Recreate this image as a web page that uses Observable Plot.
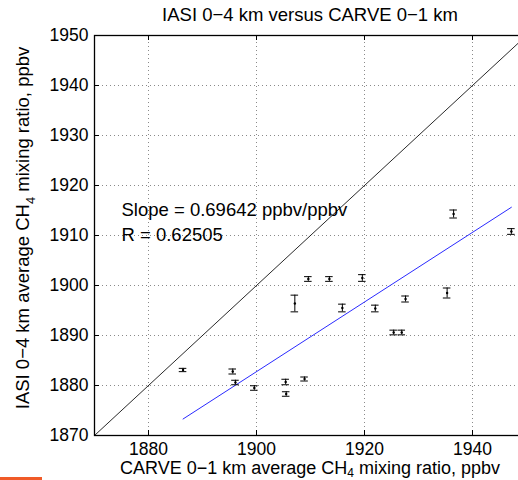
<!DOCTYPE html>
<html><head><meta charset="utf-8">
<script src="https://cdn.jsdelivr.net/npm/d3@7"></script>
<script src="https://cdn.jsdelivr.net/npm/@observablehq/plot@0.6"></script>
<style>
html,body{margin:0;padding:0;overflow:hidden;background:#fff;width:518px;height:480px;}
#chart{position:absolute;left:0;top:0;width:518px;height:480px;overflow:hidden;}
#chart svg{max-width:none !important;width:560px;height:480px;}
#bar{position:absolute;left:0;top:477px;width:42px;height:3px;background:#f05a28;}
</style></head><body><div id="chart"></div><div id="bar"></div>
<script>
// CARVE 0-1 km average CH4 (x) vs IASI 0-4 km average CH4 (y), ppbv
const carve = [1886.4, 1895.6, 1896.1, 1899.6, 1905.4, 1905.5, 1908.9, 1907.1, 1909.6, 1913.5, 1919.6, 1915.9, 1922.0, 1927.6, 1925.4, 1926.9, 1936.5, 1947.2, 1935.3];
const iasi  = [1883.1, 1882.8, 1880.6, 1879.5, 1880.7, 1878.3, 1881.3, 1896.4, 1901.3, 1901.3, 1901.5, 1895.5, 1895.4, 1897.3, 1890.6, 1890.6, 1914.3, 1910.8, 1898.5];
const iasiErr = [0.33, 0.5, 0.45, 0.45, 0.55, 0.45, 0.4, 1.67, 0.47, 0.47, 0.67, 0.77, 0.67, 0.6, 0.47, 0.47, 0.8, 0.57, 1.0];
const slope = 0.69642;
const rValue = 0.62505;
const fitStart = [1886.4, 1873.3];
const xTicks = [1880, 1900, 1920, 1940];
const yTicks = [1870, 1880, 1890, 1900, 1910, 1920, 1930, 1940, 1950];
const titleText = "IASI 0\u22124 km versus CARVE 0\u22121 km";

const pts = carve.map((x, i) => ({x, y: iasi[i], e: iasiErr[i]}));
const intercept = fitStart[1] - slope * fitStart[0];
const [xmin, xmax] = d3.extent(carve);
const fit = [xmin, xmax].map(x => ({x, y: intercept + slope * x}));
const diag = [{x: 1870, y: 1870}, {x: 1950, y: 1950}];
const innerX = xTicks.filter(t => t > 1870 && t < 1950);
const innerY = yTicks.filter(t => t > 1870 && t < 1950);
const grid = {stroke: "#8a8a8a", strokeOpacity: 1, strokeWidth: 1, strokeDasharray: "1,3"};
const font = "'Liberation Sans', Arial, Helvetica, sans-serif";
const fs = 18.5;
const tfs = 17.5;

const W = 560, ML = 94, MR = 34, MT = 35, MB = 45, H = 480;
const chart = Plot.plot({
  width: W, height: H,
  marginLeft: ML, marginRight: MR, marginTop: MT, marginBottom: MB,
  style: {fontFamily: font, fontSize: fs + "px", background: "white", color: "black", overflow: "visible", maxWidth: "none"},
  x: {domain: [1870, 1950]},
  y: {domain: [1870, 1950]},
  marks: [
    Plot.ruleX(innerX, {x: d => d, y1: 1870, y2: 1950, ...grid}),
    Plot.ruleY(innerY, {y: d => d, x1: 1870, x2: 1950, ...grid}),
    Plot.axisX(xTicks, {tickSize: 0, tickPadding: 7, tickFormat: d => String(d), label: null, fontSize: tfs}),
    Plot.axisY(yTicks, {tickSize: 0, tickPadding: 6, tickFormat: d => String(d), label: null, fontSize: tfs}),
    Plot.ruleX(xTicks, {x: d => d, y1: 1870, y2: 1871, stroke: "black"}),
    Plot.ruleX(xTicks, {x: d => d, y1: 1950, y2: 1949, stroke: "black"}),
    Plot.ruleY(yTicks, {y: d => d, x1: 1870, x2: 1870.93, stroke: "black"}),
    Plot.line(diag, {x: "x", y: "y", stroke: "#111", strokeWidth: 0.9}),
    Plot.line(fit, {x: "x", y: "y", stroke: "#2a2aff", strokeWidth: 1}),
    Plot.ruleX(pts, {x: "x", y1: d => d.y - d.e, y2: d => d.y + d.e, stroke: "black", strokeWidth: 1}),
    Plot.ruleY(pts, {y: d => d.y - d.e, x1: d => d.x - 0.7, x2: d => d.x + 0.7, stroke: "black", strokeWidth: 1}),
    Plot.ruleY(pts, {y: d => d.y + d.e, x1: d => d.x - 0.7, x2: d => d.x + 0.7, stroke: "black", strokeWidth: 1}),
    Plot.dot(pts, {x: "x", y: "y", r: 1.2, fill: "black", stroke: null}),
    Plot.text([`Slope = ${slope} ppbv/ppbv`, `R = ${rValue}`], {
      x: 1875, y: (d, i) => 1915 - 5 * i, text: d => d, textAnchor: "start", lineAnchor: "middle", fill: "black", fontSize: fs
    }),
    Plot.frame({stroke: "black", strokeWidth: 1.3})
  ]
});

const svg = d3.select(chart).style("max-width", "none").attr("width", W).attr("height", H);
const cx = ML + (W - ML - MR) / 2;
svg.append("text").attr("x", cx).attr("y", 21).attr("text-anchor", "middle")
  .attr("font-size", fs).attr("font-family", font).attr("fill", "black").text(titleText);
const xl = svg.append("text").attr("x", cx).attr("y", 474).attr("text-anchor", "middle")
  .attr("font-size", 18).attr("font-family", font).attr("fill", "black");
xl.append("tspan").text("CARVE 0\u22121 km average CH");
xl.append("tspan").attr("dy", 3).attr("font-size", 12).text("4");
xl.append("tspan").attr("dy", -3).text(" mixing ratio, ppbv");
const yl = svg.append("text").attr("transform", "translate(29,228) rotate(-90)").attr("text-anchor", "middle")
  .attr("font-size", fs).attr("font-family", font).attr("fill", "black");
yl.append("tspan").text("IASI 0\u22124 km average CH");
yl.append("tspan").attr("dy", 6).attr("font-size", 13).text("4");
yl.append("tspan").attr("dy", -6).text(" mixing ratio, ppbv");

document.getElementById("chart").appendChild(chart);
</script>
</body></html>
